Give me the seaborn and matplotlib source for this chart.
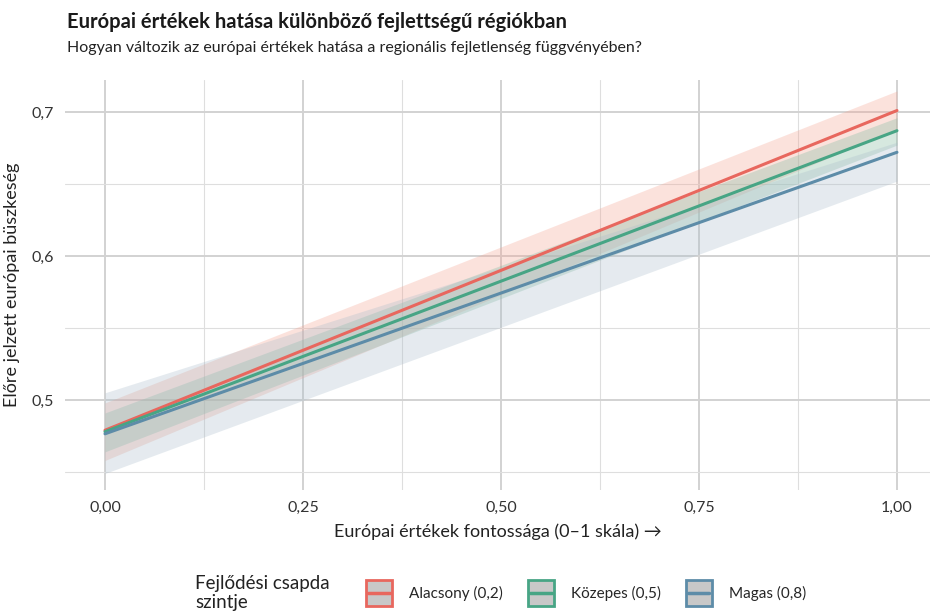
import pandas as pd
import numpy as np
import matplotlib

matplotlib.use("Agg")
import matplotlib.pyplot as plt
import seaborn as sns
from matplotlib.patches import Patch, Rectangle
from matplotlib.lines import Line2D
from matplotlib.legend_handler import HandlerTuple

# data
x_vals = [0.0, 1.0]
groups = ["Alacsony (0,2)", "Közepes (0,5)", "Magas (0,8)"]
fit_low = [0.479, 0.701]
fit_mid = [0.478, 0.687]
fit_high = [0.4765, 0.672]
lo_low = [0.458, 0.688]
hi_low = [0.498, 0.7146]
lo_mid = [0.464, 0.677]
hi_mid = [0.491, 0.696]
lo_high = [0.449, 0.652]
hi_high = [0.505, 0.679]

colors = ["#E8675E", "#47A585", "#5D8CA8"]
fills = ["#F5A08E", "#8ABFA6", "#A9BCCB"]
fill_alpha = [0.3, 0.35, 0.3]

df = pd.DataFrame(
    {
        "x": x_vals * 3,
        "fit": fit_low + fit_mid + fit_high,
        "lo": lo_low + lo_mid + lo_high,
        "hi": hi_low + hi_mid + hi_high,
        "szint": [g for g in groups for _ in x_vals],
    }
)

sns.set_theme(style="white")
plt.rcParams["font.family"] = ["Lato", "DejaVu Sans"]

fig = plt.figure(figsize=(9.3, 6.11), dpi=100)
ax = fig.add_axes([65 / 930, 1 - 490 / 611, 865 / 930, 410 / 611])

# ribbons
for g, c, a in zip(groups, fills, fill_alpha):
    sub = df[df["szint"] == g]
    ax.fill_between(sub["x"], sub["lo"], sub["hi"], color=c, alpha=a, lw=0, zorder=2)

sns.lineplot(
    data=df, x="x", y="fit", hue="szint", palette=colors, lw=2.2,
    legend=False, ax=ax, zorder=3,
)

ax.set_xlim(-0.0505, 1.0417)
ax.set_ylim(0.4375, 0.7222)
ax.set_xticks([0, 0.25, 0.5, 0.75, 1.0])
ax.set_xticklabels(["0,00", "0,25", "0,50", "0,75", "1,00"])
ax.set_yticks([0.5, 0.6, 0.7])
ax.set_yticklabels(["0,5", "0,6", "0,7"])
ax.set_xticks([0.125, 0.375, 0.625, 0.875], minor=True)
ax.set_yticks([0.45, 0.55, 0.65], minor=True)
ax.grid(which="major", color="#d2d2d2", lw=1.4, zorder=0)
ax.grid(which="minor", color="#dedede", lw=0.8, zorder=0)
ax.set_axisbelow(True)
for s in ax.spines.values():
    s.set_visible(False)
ax.tick_params(which="both", length=0, labelsize=11.5, colors="#333333", pad=8)

ax.set_xlabel("Európai értékek fontossága (0–1 skála) →", fontsize=13, color="#222222", labelpad=6)
ax.set_ylabel("Előre jelzett európai büszkeség", fontsize=13, color="#222222", labelpad=8)

fig.text(67 / 930, 1 - 22 / 611, "Európai értékek hatása különböző fejlettségű régiókban",
         fontsize=14.5, fontweight="bold", color="#1a1a1a", va="center")
fig.text(67 / 930, 1 - 48 / 611, "Hogyan változik az európai értékek hatása a regionális fejletlenség függvényében?",
         fontsize=11.5, color="#222222", va="center")

# legend
fig.text(195 / 930, 1 - 593 / 611, "Fejlődési csapda\nszintje", fontsize=13.5,
         color="#222222", va="center", linespacing=1.1)
handles = [
    (Patch(facecolor="#c8c8c8", edgecolor=c, lw=2),
     Line2D([0], [0], color=c, lw=2.5))
    for c in colors
]


class BoxLineHandler(HandlerTuple):
    def create_artists(self, legend, orig_handle, xdescent, ydescent, width, height, fontsize, trans):
        box, line = orig_handle
        side = width
        ym = -ydescent + height / 2
        p = Rectangle((-xdescent, ym - side / 2), side, side,
                      facecolor=box.get_facecolor(), edgecolor=box.get_edgecolor(),
                      lw=2, transform=trans)
        ln = Line2D([-xdescent + side * 0.08, -xdescent + side * 0.92], [ym, ym],
                    color=line.get_color(), lw=2.5, transform=trans)
        return [p, ln]


fig.legend(
    handles, groups, handler_map={tuple: BoxLineHandler()},
    loc="center left", bbox_to_anchor=(352 / 930, 1 - 593 / 611), ncol=3,
    frameon=False, fontsize=11, handlelength=1.7, handleheight=1.7,
    columnspacing=1.6, handletextpad=1.15,
)

fig.savefig("out.png", dpi=100)
